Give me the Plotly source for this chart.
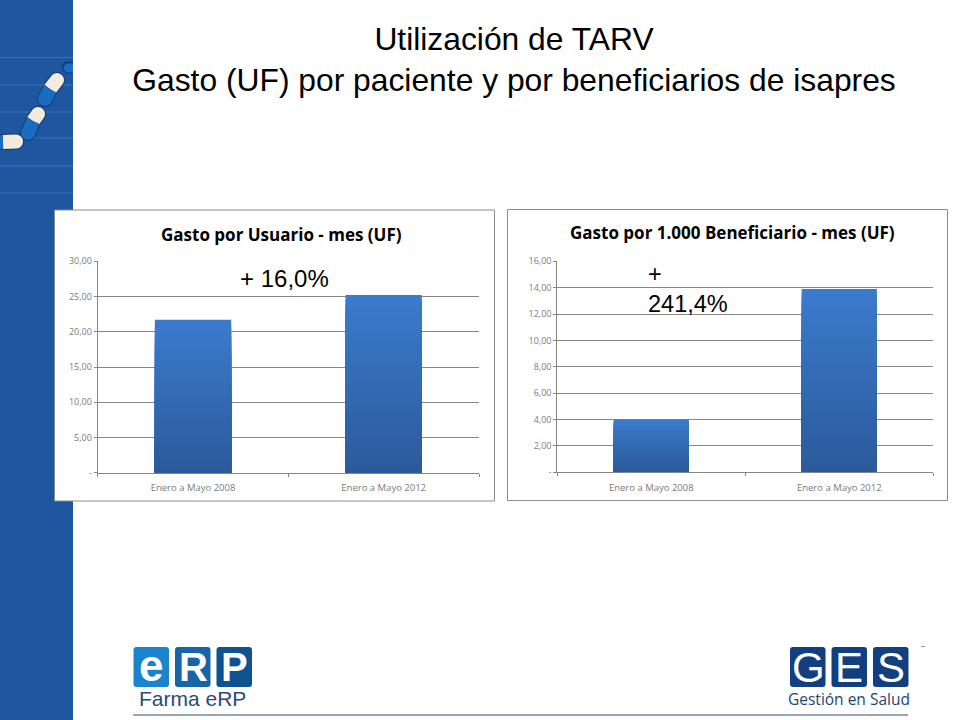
import numpy as np
import plotly.graph_objects as go

# chart values
categories = ["Enero a Mayo 2008", "Enero a Mayo 2012"]
gasto_usuario = [21.7, 25.2]
gasto_beneficiario = [4.0, 13.9]

ticks_usuario = [0, 5, 10, 15, 20, 25, 30]
ticklabels_usuario = ["-", "5,00", "10,00", "15,00", "20,00", "25,00", "30,00"]
ticks_beneficiario = [0, 2, 4, 6, 8, 10, 12, 14, 16]
ticklabels_beneficiario = ["-", "2,00", "4,00", "6,00", "8,00", "10,00", "12,00", "14,00", "16,00"]

W, H = 960, 720
GRID = "#868686"
TICK_TEXT = "#7a7a7a"
SLIDE_BLUE = "#1f56a0"
N_STEPS = 40


def fx(x):
    return x / W


def fy(y):
    return 1 - y / H


def rect(x0, y0, x1, y1, fill, line=None):
    return dict(type="rect", xref="paper", yref="paper", x0=fx(x0), x1=fx(x1), y0=fy(y1), y1=fy(y0),
                fillcolor=fill, line=dict(color=line, width=1) if line else dict(width=0), layer="below")


def rounded_square(x0, y0, x1, y1, fill, r=3):
    path = (f"M {fx(x0 + r)} {fy(y0)} L {fx(x1 - r)} {fy(y0)} Q {fx(x1)} {fy(y0)} {fx(x1)} {fy(y0 + r)} "
            f"L {fx(x1)} {fy(y1 - r)} Q {fx(x1)} {fy(y1)} {fx(x1 - r)} {fy(y1)} "
            f"L {fx(x0 + r)} {fy(y1)} Q {fx(x0)} {fy(y1)} {fx(x0)} {fy(y1 - r)} "
            f"L {fx(x0)} {fy(y0 + r)} Q {fx(x0)} {fy(y0)} {fx(x0 + r)} {fy(y0)} Z")
    return dict(type="path", xref="paper", yref="paper", path=path, fillcolor=fill, line=dict(width=0), layer="below")


def capsule(p0, p1, fill, half_width=6.5):
    """Half a pill: straight body from p0 to p1 with a round end on p1."""
    p0, p1 = np.array(p0, float), np.array(p1, float)
    angle = np.arctan2(*(p1 - p0)[::-1])
    arc = np.linspace(angle - np.pi / 2, angle + np.pi / 2, 12)
    points = [p0 + half_width * np.array([np.cos(arc[0]), np.sin(arc[0])])]
    points += [p1 + half_width * np.array([np.cos(a), np.sin(a)]) for a in arc]
    points += [p0 + half_width * np.array([np.cos(arc[-1]), np.sin(arc[-1])])]
    path = "M " + " L ".join(f"{fx(min(max(x, 0), 73))} {fy(y)}" for x, y in points) + " Z"
    return dict(type="path", xref="paper", yref="paper", path=path, fillcolor=fill, line=dict(width=0), layer="below")


def pill(joint, white_end, blue_end):
    # dark edge first, then the two coloured halves
    return [
        capsule(joint, white_end, "#143a70", 8), capsule(joint, blue_end, "#143a70", 8),
        capsule(joint, white_end, "#f4ebdf", 7), capsule(joint, blue_end, "#1a6cc0", 7),
    ]


def gradient_bars(values):
    # plotly bars have no gradient fill, so overlay shorter and shorter bars from light to dark
    traces = []
    for i in range(N_STEPS):
        t = i / N_STEPS
        color = f"rgb({int(60 - 17 * t)},{int(123 - 33 * t)},{int(204 - 50 * t)})"
        traces.append(go.Bar(
            x=categories, y=[v * (1 - t) for v in values], width=0.4, showlegend=False, hoverinfo="skip",
            marker=dict(color=color, line=dict(width=0)),
        ))
    return traces


fig = go.Figure()
for trace in gradient_bars(gasto_usuario):
    trace.update(xaxis="x", yaxis="y")
    fig.add_trace(trace)
for trace in gradient_bars(gasto_beneficiario):
    trace.update(xaxis="x2", yaxis="y2")
    fig.add_trace(trace)

x_font = dict(family="Open Sans, DejaVu Sans", size=9.5, color=TICK_TEXT)
y_font = dict(family="Open Sans, DejaVu Sans", size=9, color=TICK_TEXT)
x_style = dict(type="category", categoryorder="array", categoryarray=categories, tickson="boundaries",
               ticks="outside", ticklen=3, tickcolor=GRID, showline=True, linecolor=GRID, showgrid=False,
               tickfont=x_font, ticklabelstandoff=6, automargin=False)
y_style = dict(ticks="outside", ticklen=3, tickcolor=GRID, showline=True, linecolor=GRID, gridcolor=GRID,
               gridwidth=1, zeroline=False, tickfont=y_font, automargin=False)

shapes = [rect(0, 0, 73, H, SLIDE_BLUE)]
for y in [57.5, 85, 112, 138, 166, 193]:
    shapes.append(dict(type="line", xref="paper", yref="paper", x0=0, x1=fx(73), y0=fy(y), y1=fy(y),
                       line=dict(color="#3f70b4", width=1), layer="below"))
shapes += capsule((73, 67.5), (68, 67.5), "#143a70", 6), capsule((73, 68), (68, 68), "#1a6cc0", 4.5)
shapes += pill((50, 89), (57, 80), (45, 99))
shapes += pill((33, 121), (38, 114), (28, 133))
shapes += pill((3, 142), (16, 141.5), (0, 142))
shapes += [
    rect(54.5, 210, 494.5, 501, "white", "#8c8c8c"),
    rect(507.5, 209.5, 947.5, 500.5, "white", "#8c8c8c"),
    rounded_square(133.5, 647, 169, 687, "#1a85cc"),
    rounded_square(175, 647, 210.5, 687, "#1565a8"),
    rounded_square(216.5, 647, 252, 687, "#0f5291"),
    rounded_square(790, 647, 825.5, 687, "#123f7f"),
    rounded_square(831.5, 647, 867, 687, "#123f7f"),
    rounded_square(873, 647, 908.5, 687, "#123f7f"),
    rect(133, 714, 908, 716, "#9aa5b8"),
    rect(921, 646, 925, 647, "#9a9a9a"),
]


def note(text, x, y, size, color="black", family="Liberation Sans", weight=None, anchor="center"):
    return dict(text=text, x=fx(x), y=fy(y), xref="paper", yref="paper", showarrow=False, xanchor=anchor,
                yanchor="middle", font=dict(family=family, size=size, color=color, weight=weight))


annotations = [
    note("Gasto por Usuario - mes (UF)", 281, 235, 17, family="Open Sans", weight="bold"),
    note("Gasto por 1.000 Beneficiario - mes (UF)", 732, 233, 17, family="Open Sans", weight="bold"),
    note("+ 16,0%", 284, 279, 24),
    note("+", 646, 274, 23.5, anchor="left"),
    note("241,4%", 646, 304, 23.5, anchor="left"),
    note("e", 151, 665, 44, "white", weight="bold"),
    note("R", 193, 667, 40, "white", weight="bold"),
    note("P", 234, 667, 40, "white", weight="bold"),
    note("Farma eRP", 192, 698, 21, "#2b4a80"),
    note("G", 808, 667, 42, "white"),
    note("E", 849, 667, 42, "white"),
    note("S", 891, 667, 42, "white"),
    note("Gestión en Salud", 849, 699, 15.5, "#1d4477", family="Open Sans"),
]

fig.update_layout(
    width=W, height=H, margin=dict(l=0, r=0, t=0, b=0), autosize=False,
    paper_bgcolor="white", plot_bgcolor="rgba(0,0,0,0)", barmode="overlay",
    title=dict(text="Utilización de TARV<br>Gasto (UF) por paciente y por beneficiarios de isapres",
               x=514 / W, xanchor="center", y=1 - 50 / H, yanchor="middle",
               font=dict(family="Liberation Sans", size=31.8, color="black")),
    xaxis=dict(domain=[fx(97.7), fx(479)], anchor="y", **x_style),
    yaxis=dict(domain=[fy(472.7), fy(261.3)], anchor="x", range=[0, 30],
               tickvals=ticks_usuario, ticktext=ticklabels_usuario, **y_style),
    xaxis2=dict(domain=[fx(557.3), fx(933.3)], anchor="y2", **x_style),
    yaxis2=dict(domain=[fy(472.3), fy(261.3)], anchor="x2", range=[0, 16],
                tickvals=ticks_beneficiario, ticktext=ticklabels_beneficiario, **y_style),
    shapes=shapes, annotations=annotations,
)

# the page body has a default margin that would push the figure off by 8px
fig.write_html("out.html", config=dict(displayModeBar=False), post_script="document.body.style.margin = '0';")
